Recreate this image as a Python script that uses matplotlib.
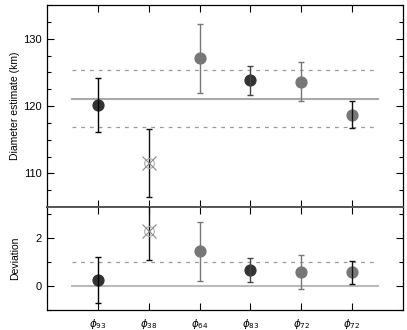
import matplotlib
matplotlib.use("Agg")
import matplotlib.pyplot as plt
from matplotlib.ticker import MultipleLocator

labels = [r"$\phi_{93}$", r"$\phi_{38}$", r"$\phi_{64}$", r"$\phi_{83}$", r"$\phi_{72}$", r"$\phi_{72}$"]
diam = [120.1, 111.5, 127.1, 123.8, 123.6, 118.7]
diam_lo = [116.1, 106.5, 122.0, 121.7, 120.7, 116.8]
diam_hi = [124.1, 116.6, 132.2, 126.0, 126.5, 120.8]
dev = [0.25, 2.3, 1.45, 0.66, 0.60, 0.57]
dev_lo = [-0.72, 1.08, 0.20, 0.15, -0.12, 0.08]
dev_hi = [1.20, 3.6, 2.67, 1.17, 1.30, 1.05]
mean_d = 121.1
band_hi = 125.3
band_lo = 116.9
marker_colors = ["#333333", None, "#777777", "#333333", "#777777", "#777777"]
bar_colors = ["#000000", "#111111", "#777777", "#444444", "#777777", "#111111"]

plt.rcParams['font.family'] = ['Liberation Sans', 'DejaVu Sans']
fig = plt.figure(figsize=(4.07, 3.30), dpi=100)
ax1 = fig.add_axes([47/407, 1-207/330, 356/407, 202/330])
ax2 = fig.add_axes([47/407, 1-310/330, 356/407, 103/330])

x = list(range(1, len(labels)+1))

def draw(ax, vals, lo, hi):
    for i, xi in enumerate(x):
        ax.errorbar([xi], [vals[i]], yerr=[[vals[i]-lo[i]], [hi[i]-vals[i]]],
                    fmt='none', ecolor=bar_colors[i], elinewidth=1.0, capsize=2.5, capthick=1.0, zorder=3)
        if marker_colors[i] is None:
            ax.plot([xi], [vals[i]], 'o', ms=7, mfc='none', mec='#aaaaaa', mew=0.8, zorder=4)
            ax.plot([xi], [vals[i]], 'x', ms=10, mec='#888888', mew=0.8, zorder=4)
        else:
            ax.plot([xi], [vals[i]], 'o', ms=7.8, mfc=marker_colors[i], mec=marker_colors[i], zorder=2)

ax1.plot([0.5, 6.5], [mean_d, mean_d], color='#aaaaaa', lw=1.5, zorder=1)
ax1.plot([0.5, 6.5], [band_hi, band_hi], color='#999999', lw=0.9, ls=(0, (3, 4)), zorder=1)
ax1.plot([0.5, 6.5], [band_lo, band_lo], color='#999999', lw=0.9, ls=(0, (3, 4)), zorder=1)
draw(ax1, diam, diam_lo, diam_hi)
ax1.set_xlim(0, 7)
ax1.set_ylim(105, 135)
ax1.yaxis.set_major_locator(MultipleLocator(10))
ax1.yaxis.set_minor_locator(MultipleLocator(2.5))
ax1.set_xticks(x)
ax1.set_xticklabels([])
ax1.set_ylabel("Diameter estimate (km)", fontsize=7.5)

ax2.plot([0.5, 6.5], [0, 0], color='#bbbbbb', lw=1.5, zorder=1)
ax2.plot([0.5, 6.5], [1, 1], color='#999999', lw=0.9, ls=(0, (3, 4)), zorder=1)
draw(ax2, dev, dev_lo, dev_hi)
ax2.set_xlim(0, 7)
ax2.set_ylim(-1, 3.3)
ax2.yaxis.set_major_locator(MultipleLocator(2))
ax2.yaxis.set_minor_locator(MultipleLocator(1))
ax2.set_xticks(x)
ax2.set_xticklabels(labels, fontsize=7.5)
ax2.set_ylabel("Deviation", fontsize=7.5)

for ax in (ax1, ax2):
    ax.tick_params(which='both', direction='in', top=True, right=True, labelsize=8, width=0.8)
    ax.tick_params(which='major', length=5)
    ax.tick_params(which='minor', length=3)
    ax.tick_params(axis='x', which='minor', bottom=False, top=False)
    for s in ax.spines.values():
        s.set_linewidth(0.9)
ax2.tick_params(axis='x', pad=5, labelsize=7.5)
ax1.spines['bottom'].set_color('#555555')
ax1.spines['bottom'].set_linewidth(1.4)
ax2.spines['top'].set_color('#555555')
ax2.spines['top'].set_linewidth(1.4)
ax1.yaxis.set_label_coords(-0.075, 0.5)
ax2.yaxis.set_label_coords(-0.075, 0.5)

fig.savefig("out.png", dpi=100)
